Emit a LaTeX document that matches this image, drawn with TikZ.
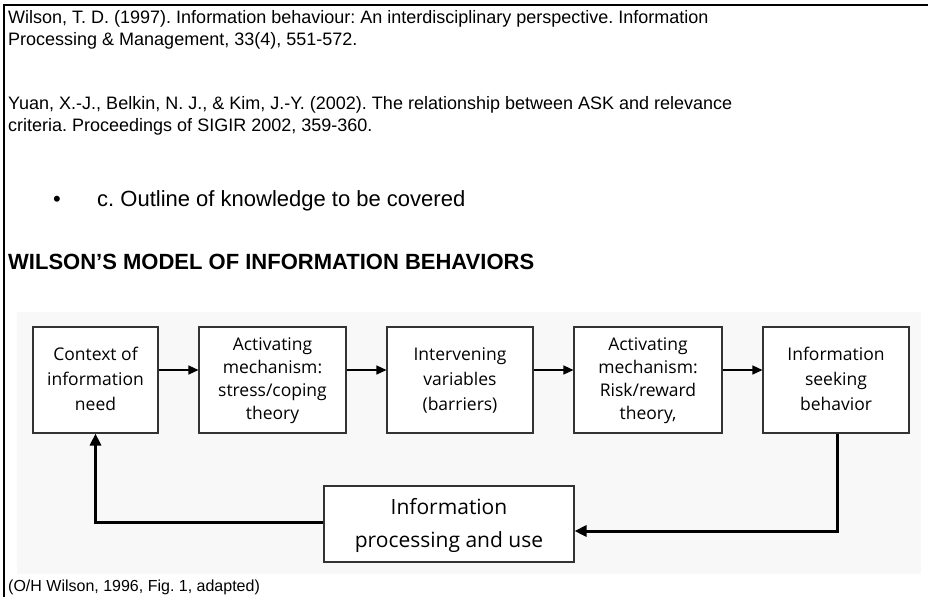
\documentclass[tikz,border=0pt]{standalone}
\usepackage{fontspec}
\setmainfont{Liberation Sans}
\newfontfamily\boxfont{Open Sans}
\usetikzlibrary{arrows.meta}
\definecolor{diagbg}{HTML}{F8F8F8}
\definecolor{boxline}{HTML}{333333}
\frenchspacing
\newcommand{\boxtext}[3]{\raisebox{#1}{\renewcommand{\arraystretch}{1}\fontsize{17.5}{#2}\selectfont\begin{tabular}{@{}c@{}}#3\end{tabular}}}
\tikzset{
  reftext/.style={anchor=base west, inner sep=0pt, font=\fontsize{18}{22}\selectfont},
  captext/.style={anchor=base west, inner sep=0pt, font=\fontsize{16}{20}\selectfont},
  bigtext/.style={anchor=base west, inner sep=0pt, font=\fontsize{22}{26}\selectfont},
  titletext/.style={anchor=base west, inner sep=0pt, font=\bfseries\fontsize{22}{26}\selectfont},
  stagebox/.style={draw=boxline, line width=1.1pt, fill=white, rectangle, inner sep=0pt,
     minimum height=106pt, font=\boxfont},
  useboxstyle/.style={draw=boxline, line width=1.1pt, fill=white, rectangle, inner sep=0pt,
     minimum width=250pt, minimum height=76pt, font=\boxfont},
  flow/.style={line width=1.3pt, -{Triangle[length=10pt,width=9pt]}},
  looparrow/.style={line width=3pt, -{Triangle[length=12pt,width=11pt]}},
  frameline/.style={line width=2pt, black}
}
\begin{document}
\begin{tikzpicture}[x=1pt,y=-1pt]
\useasboundingbox (0,0) rectangle (928,597);
\fill[white] (0,0) rectangle (928,597);
% frame
\draw[frameline] (4,597) -- (4,4.5) -- (928,4.5);
% reference text
\node[reftext] (w1) at (8,23) {Wilson, T. D. (1997). Information behaviour: An interdisciplinary perspective. Information};
\node[reftext] (w2) at (8,45) {Processing \& Management, 33(4), 551-572.};
\node[reftext] (y1) at (8,109) {Yuan, X.-J., Belkin, N. J., \& Kim, J.-Y. (2002). The relationship between ASK and relevance};
\node[reftext] (y2) at (8,131) {criteria. Proceedings of SIGIR 2002, 359-360.};
\node[bigtext] (bul) at (53,206) {•};
\node[bigtext] (outline) at (97,206) {c. Outline of knowledge to be covered};
\node[titletext] (title) at (8,269) {WILSON{\char39}S MODEL OF INFORMATION BEHAVIORS};
% diagram background
\fill[diagbg] (17,312) rectangle (921,574);
% boxes
\node[stagebox, minimum width=125pt] (b1) at (95.5,380) {\boxtext{4pt}{25}{Context of\\information\\need}};
\node[stagebox, minimum width=147pt] (b2) at (272.5,380) {\boxtext{0pt}{23}{Activating\\mechanism:\\stress/coping\\theory}};
\node[stagebox, minimum width=146pt] (b3) at (460,380) {\boxtext{4pt}{25}{Intervening\\variables\\(barriers)}};
\node[stagebox, minimum width=148pt] (b4) at (648,380) {\boxtext{0pt}{23}{Activating\\mechanism:\\Risk/reward\\theory,}};
\node[stagebox, minimum width=146pt] (b5) at (836,380) {\boxtext{4pt}{25}{Information\\seeking\\behavior}};
\node[useboxstyle] (use) at (449,524) {{\renewcommand{\arraystretch}{1}\fontsize{21}{33}\selectfont\begin{tabular}{@{}c@{}}Information\\processing and use\end{tabular}}};
% flow arrows
\draw[flow] ([yshift=10pt]b1.east) -- ([yshift=10pt]b2.west);
\draw[flow] ([yshift=10pt]b2.east) -- ([yshift=10pt]b3.west);
\draw[flow] ([yshift=10pt]b3.east) -- ([yshift=10pt]b4.west);
\draw[flow] ([yshift=10pt]b4.east) -- ([yshift=10pt]b5.west);
% feedback loop
\draw[looparrow] ([xshift=1pt]b5.south) |- ([yshift=-7pt]use.east);
\draw[looparrow] ([yshift=2pt]use.west) -| (b1.south);
% caption
\node[captext] (cap) at (8,591) {(O/H Wilson, 1996, Fig. 1, adapted)};
\end{tikzpicture}
\end{document}
